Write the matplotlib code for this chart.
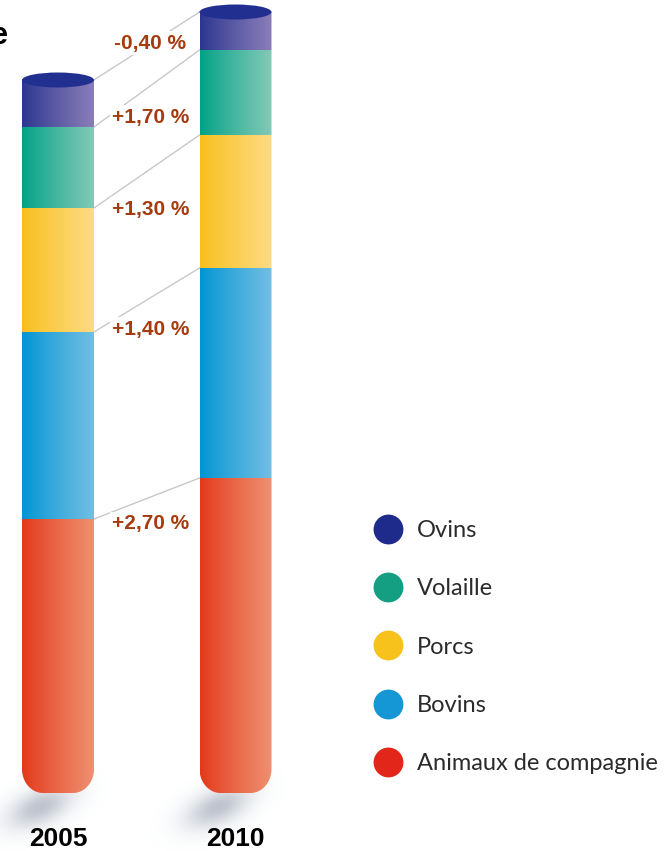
import numpy as np
import matplotlib.pyplot as plt
from matplotlib.patches import Ellipse, PathPatch
from matplotlib.path import Path
from matplotlib.colors import to_rgb
from matplotlib.lines import Line2D

plt.rcParams['font.family'] = ['Liberation Sans', 'DejaVu Sans']

# stacked from the bottom of each cylinder upwards
years = ['2005', '2010']
species = ['Animaux de compagnie', 'Bovins', 'Porcs', 'Volaille', 'Ovins']
val_2005 = [274, 187, 124, 81, 47]
val_2010 = [315, 210, 133, 85, 38]
growth = ['+2,70 %', '+1,40 %', '+1,30 %', '+1,70 %', '-0,40 %']

# left / right shade of each section, flat colour for the legend dots
shade_left = ['#E2391A', '#0095D4', '#F8BF1A', '#00A287', '#2B3690']
shade_right = ['#EF9070', '#72BEE3', '#FDDB84', '#83C9B6', '#8A7DB8']
solid = ['#E3261A', '#1597D6', '#F8C21C', '#149E82', '#1E2B8B']
top_face = '#213090'
label_red = '#A53B0E'

W, H = 668, 851
fig = plt.figure(figsize=(W / 100, H / 100), dpi=100)
ax = fig.add_axes([0, 0, 1, 1])
ax.axis('off')

xpx = 177.5                 # pixels per category step
xs = [0, 1]
w = 72 / xpx                # cylinder width
rx, ry = 21 / xpx, 24       # rounded bottom
cap_h = 15                  # height of the top ellipse
label_nudge = [-5, 3, -1, 10, 37]


def outline(xc, top):
    xl, xr = xc - w / 2, xc + w / 2
    a1 = np.linspace(np.pi, 1.5 * np.pi, 24)
    a2 = np.linspace(1.5 * np.pi, 2 * np.pi, 24)
    pts = [(xl, top)]
    pts += list(zip(xl + rx + rx * np.cos(a1), ry + ry * np.sin(a1)))
    pts += list(zip(xr - rx + rx * np.cos(a2), ry + ry * np.sin(a2)))
    pts += [(xr, top), (xl, top)]
    return Path(pts, closed=True)


def shadow(xc):
    # soft grey blot under the rounded end
    gx = np.linspace(-90, 50, 180)
    gy = np.linspace(-65, 25, 120)
    X, Y = np.meshgrid(gx, gy)
    cx, cy = -18, -14
    th = np.deg2rad(25)
    u = (X - cx) * np.cos(th) + (Y - cy) * np.sin(th)
    v = -(X - cx) * np.sin(th) + (Y - cy) * np.cos(th)
    a = 0.5 * np.exp(-(u ** 2 / (2 * 24 ** 2) + v ** 2 / (2 * 12 ** 2)))
    img = np.zeros(X.shape + (4,))
    img[..., :3] = to_rgb('#7D879E')
    img[..., 3] = a
    ax.imshow(img, origin='lower', aspect='auto', interpolation='bilinear',
              extent=[xc + gx[0] / xpx, xc + gx[-1] / xpx, gy[0], gy[-1]], zorder=1)


ramp = np.linspace(0, 1, 64) ** 0.9
tops = []
for xc, vals, year in zip(xs, [val_2005, val_2010], years):
    cum = np.concatenate([[0], np.cumsum(vals)])
    tops.append(cum[1:])
    shadow(xc)
    clip = PathPatch(outline(xc, cum[-1]), fc='none', ec='none', transform=ax.transData)
    ax.add_patch(clip)
    for i in range(len(vals)):
        c0, c1 = np.array(to_rgb(shade_left[i])), np.array(to_rgb(shade_right[i]))
        img = c0 * (1 - ramp[:, None]) + c1 * ramp[:, None]
        im = ax.imshow(img[None, :, :], aspect='auto', interpolation='bilinear',
                       extent=[xc - w / 2, xc + w / 2, cum[i], cum[i + 1]], zorder=2)
        im.set_clip_path(clip)
    ax.add_patch(Ellipse((xc, cum[-1]), w, cap_h, fc=top_face, ec='none', zorder=4))
    ax.text(xc, -46, year, ha='center', va='center', fontsize=19, fontweight='bold')

# links between matching section tops and the yearly growth rate
for i in range(len(species)):
    ax.plot([xs[0] + w / 2, xs[1] - w / 2], [tops[0][i], tops[1][i]],
            color='#C8C8C8', lw=1.0, zorder=1)
    ax.text(0.52, tops[0][i] + label_nudge[i], growth[i], ha='center', va='center',
            fontsize=15, fontweight='bold', color=label_red, zorder=3,
            bbox=dict(fc='white', ec='none', pad=1.5))

ax.set_xlim(-58 / xpx, (W - 58) / xpx)
ax.set_ylim(-58, H - 58)

handles = [Line2D([], [], ls='', marker='o', ms=21.5, mfc=solid[i], mec='none')
           for i in reversed(range(len(species)))]
leg = ax.legend(handles, species[::-1], loc='upper left',
                bbox_to_anchor=(373 / W, 1 - 520 / H), bbox_transform=fig.transFigure,
                frameon=False, numpoints=1, handlelength=1.25, handletextpad=0.6,
                labelspacing=1.58, borderpad=0, borderaxespad=0,
                prop={'family': 'Lato', 'size': 17})
for t in leg.get_texts():
    t.set_color('#2B2B2B')

fig.text(8 / W, 1 - 36 / H, 'e', ha='right', va='center', fontsize=22, fontweight='bold')

fig.savefig('out.png', dpi=100)
